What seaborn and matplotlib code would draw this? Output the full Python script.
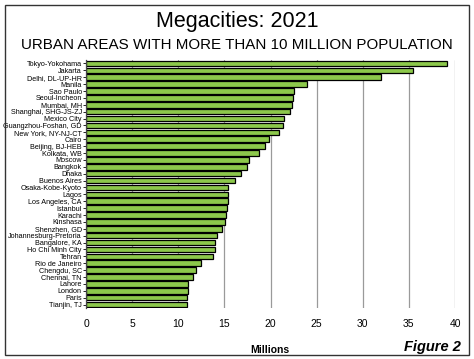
import matplotlib
matplotlib.use("Agg")
import matplotlib.pyplot as plt
import seaborn as sns
import pandas as pd
from matplotlib.patches import Rectangle

cities = ["Tokyo-Yokohama", "Jakarta", "Delhi, DL-UP-HR", "Manila", "Sao Paulo",
          "Seoul-Incheon", "Mumbai, MH", "Shanghai, SHG-JS-ZJ", "Mexico City",
          "Guangzhou-Foshan, GD", "New York, NY-NJ-CT", "Cairo", "Beijing, BJ-HEB",
          "Kolkata, WB", "Moscow", "Bangkok", "Dhaka", "Buenos Aires",
          "Osaka-Kobe-Kyoto", "Lagos", "Los Angeles, CA", "Istanbul", "Karachi",
          "Kinshasa", "Shenzhen, GD", "Johannesburg-Pretoria", "Bangalore, KA",
          "Ho Chi Minh City", "Tehran", "Rio de Janeiro", "Chengdu, SC",
          "Chennai, TN", "Lahore", "London", "Paris", "Tianjin, TJ"]
population = [39.1, 35.5, 32.0, 24.0, 22.5, 22.4, 22.3, 22.1, 21.5, 21.4, 20.9,
              19.8, 19.4, 18.7, 17.7, 17.5, 16.8, 16.2, 15.4, 15.4, 15.4, 15.3,
              15.2, 15.1, 14.7, 14.2, 14.0, 14.0, 13.8, 12.5, 11.9, 11.6, 11.1,
              11.1, 11.0, 10.9]
xticks = [0, 5, 10, 15, 20, 25, 30, 35, 40]

df = pd.DataFrame({"city": cities, "pop": population})

sns.set_theme(style="white", rc={"text.color": "black", "xtick.color": "black",
                                 "ytick.color": "black", "axes.labelcolor": "black"})
plt.rcParams['font.family'] = ['Liberation Sans', 'DejaVu Sans']

fig = plt.figure(figsize=(4.74, 3.59), dpi=100)
ax = fig.add_axes([86/474, 1-308/359, (455-86)/474, (308-60)/359])

ax.set_axisbelow(True)
ax.xaxis.grid(True, color="#9a9a9a", linewidth=0.9)
sns.barplot(data=df, x="pop", y="city", color="#8cc84b", edgecolor="black",
            linewidth=0.9, width=0.82, saturation=1, ax=ax)

ax.set_xlim(0, 40)
ax.set_xticks(xticks)
ax.set_xticklabels([str(t) for t in xticks], fontsize=7.5)
ax.tick_params(axis="x", length=0, pad=8)
ax.tick_params(axis="y", length=2, width=0.6, pad=1, left=True)
for lab in ax.get_yticklabels():
    lab.set_family(['Liberation Sans Narrow', 'Liberation Sans', 'DejaVu Sans'])
    lab.set_fontsize(5.2)
ax.set_xlabel("")
ax.set_ylabel("")
for s in ["top", "right", "bottom"]:
    ax.spines[s].set_visible(False)
ax.spines["left"].set_color("#444444")
ax.spines["left"].set_linewidth(0.9)

fig.text(0.5, 1-21/359, "Megacities: 2021", ha="center", va="center", fontsize=15.5)
fig.text(0.5, 1-45/359, "URBAN AREAS WITH MORE THAN 10 MILLION POPULATION",
         ha="center", va="center", fontsize=10.9)
fig.text(270/474, 1-350/359, "Millions", ha="center", va="center", fontsize=7.5,
         fontweight="bold")
fig.text(432/474, 1-347/359, "Figure 2", ha="center", va="center", fontsize=10.5,
         fontweight="bold", style="italic")

fig.patches.append(Rectangle((5/474, 4/359), 464/474, 350/359, transform=fig.transFigure,
                             fill=False, edgecolor="#333333", linewidth=1.0))

fig.savefig("out.png", dpi=100)
